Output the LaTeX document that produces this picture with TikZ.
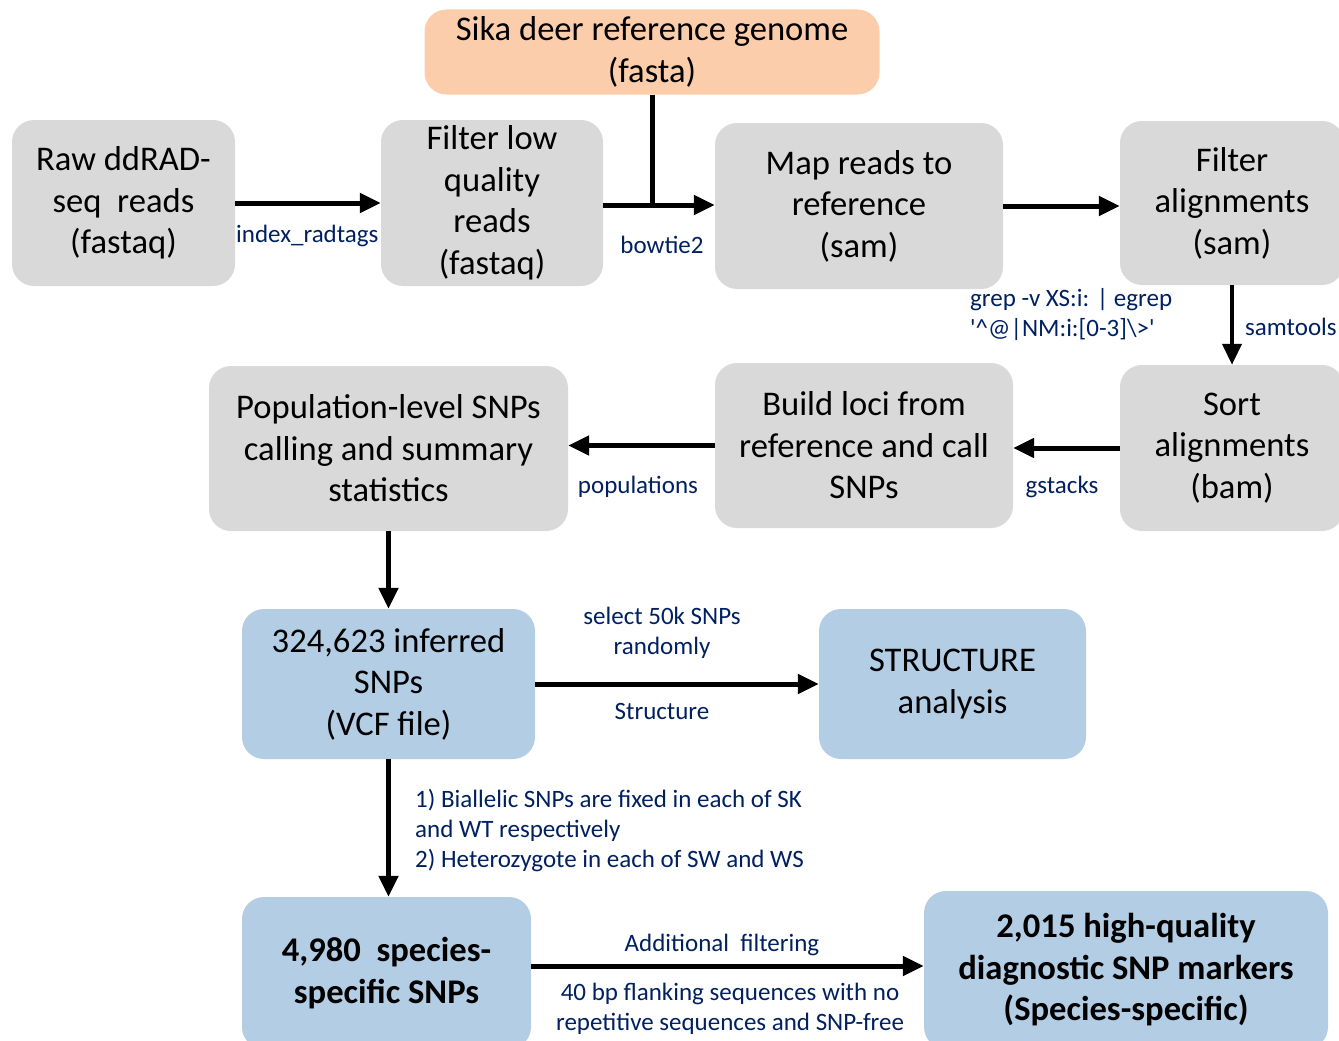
\documentclass[tikz,border=0pt]{standalone}
\usepackage{fontspec}
\setmainfont{Carlito}
\newfontfamily\grepfont{Carlito}[Ligatures=TeXOff]
\usetikzlibrary{arrows.meta, positioning}
\definecolor{stepgray}{HTML}{D9D9D9}
\definecolor{refpeach}{HTML}{FCCDAA}
\definecolor{snpblue}{HTML}{B2CDE4}
\definecolor{toolblue}{HTML}{002060}

\begin{document}
\begin{tikzpicture}[
  x=1pt, y=-1pt,
  box/.style={rectangle, rounded corners=22pt, fill=stepgray, align=center, inner sep=0pt, font=\fontsize{34.6}{41.5}\selectfont},
  refbox/.style={box, fill=refpeach},
  snpbox/.style={box, fill=snpblue},
  tool/.style={font=\fontsize{25}{30}\selectfont, text=toolblue, align=center, inner sep=0pt},
  flow/.style={line width=5pt, -{Triangle[length=21pt, width=19pt]}},
  >=Triangle
]
\useasboundingbox (0,0) rectangle (1339,1041);

% steps of the pipeline
\node[refbox, minimum width=455pt, minimum height=85pt] (ref) at (652,52) {Sika deer reference genome\\(fasta)};
\node[box, minimum width=223pt, minimum height=166pt] (raw) at (123.5,203) {Raw ddRAD-\\seq\ \ reads\\(fastaq)};
\node[box, minimum width=222pt, minimum height=166pt] (lowq) at (492,203) {Filter low\\quality\\reads\\(fastaq)};
\node[box, minimum width=288pt, minimum height=166pt] (map) at (859,206) {Map reads to\\reference\\(sam)};
\node[box, minimum width=224pt, minimum height=164pt] (falign) at (1232,203) {Filter\\alignments\\(sam)};
\node[box, minimum width=224pt, minimum height=166pt] (sort) at (1232,448) {Sort\\alignments\\(bam)};
\node[box, minimum width=298pt, minimum height=165pt] (loci) at (864,445.5) {Build loci from\\reference and call\\SNPs};
\node[box, minimum width=359pt, minimum height=165pt] (popstat) at (388.5,448.5) {Population-level SNPs\\calling and summary\\statistics};
\node[snpbox, minimum width=293pt, minimum height=150pt] (vcf) at (388.5,684) {324,623 inferred\\SNPs\\(VCF file)};
\node[snpbox, minimum width=267pt, minimum height=150pt] (struct) at (952.5,684) {STRUCTURE\\analysis};
\node[snpbox, minimum width=289pt, minimum height=152pt, font=\fontsize{34.6}{41.5}\selectfont\bfseries] (spec) at (386.5,973) {4,980\ \ species-\\specific SNPs};
\node[snpbox, minimum width=404pt, minimum height=158pt, font=\fontsize{34.6}{41.5}\selectfont\bfseries] (diag) at (1126,970) {2,015 high-quality\\diagnostic SNP markers\\(Species-specific)};

% connectors
\coordinate (jn) at (ref.south |- 0,205);
\draw[flow] (raw.east) -- (lowq.west);
\draw[line width=5pt] (ref.south) -- (jn);
\draw[flow] (lowq.east |- jn) -- (map.west |- jn);
\draw[flow] (map.east) -- (map.east -| falign.west);
\draw[flow, line width=4pt] (falign.south) -- (sort.north);
\draw[flow] (sort.west) -- (sort.west -| loci.east);
\draw[flow] (loci.west) -- (loci.west -| popstat.east);
\draw[flow] (popstat.south) -- (vcf.north);
\draw[flow] (vcf.east) -- (struct.west);
\draw[flow] (vcf.south) -- (vcf.south |- spec.north);
\draw[flow] (spec.east |- 0,966) -- (diag.west |- 0,966);

% tool labels
\node[tool, anchor=west] (lidx) at (236,236) {index\_radtags};
\node[tool] (lbow) at (662,245) {bowtie2};
\node[tool, anchor=west, align=left] (lgrep) at (970,315) {{\grepfont grep -v XS:i: | egrep}\\{\grepfont '\textasciicircum @|NM:i:[0-3]\textbackslash>'}};
\node[tool, anchor=west] (lsam) at (1245,327) {samtools};
\node[tool] (lgst) at (1062,487) {gstacks};
\node[tool] (lpop) at (638,487) {populations};
\node[tool] (lsel) at (662,633) {select 50k SNPs\\randomly};
\node[tool] (lstr) at (662,711) {Structure};
\node[tool, anchor=west, align=left] (lrule) at (415,830) {1) Biallelic SNPs are fixed in each of SK\\and WT respectively\\2) Heterozygote in each of SW and WS};
\node[tool] (ladd) at (722,945) {Additional\ \ filtering};
\node[tool] (lflank) at (730,1009) {40 bp flanking sequences with no\\repetitive sequences and SNP-free};
\end{tikzpicture}
\end{document}
